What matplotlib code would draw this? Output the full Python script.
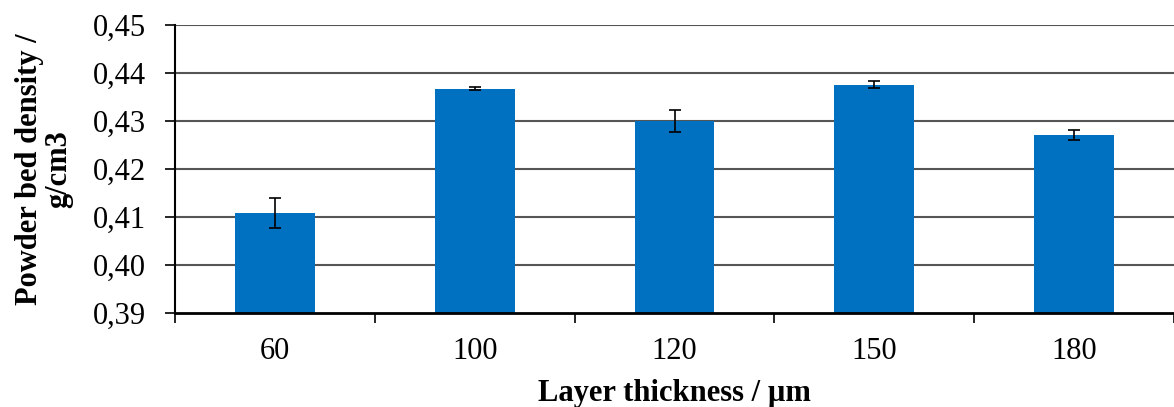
import matplotlib.pyplot as plt
import numpy as np

# Layer thickness categories and measured powder bed density
thickness = ['60', '100', '120', '150', '180']
density = [0.4108, 0.4367, 0.4300, 0.4376, 0.4271]
density_err = [0.0031, 0.0003, 0.0023, 0.0008, 0.0011]

yticks = [0.39, 0.40, 0.41, 0.42, 0.43, 0.44, 0.45]
ytick_labels = ['0,39', '0,40', '0,41', '0,42', '0,43', '0,44', '0,45']

plt.rcParams['font.family'] = ['Liberation Serif', 'DejaVu Serif']

fig = plt.figure(figsize=(11.74, 4.07), dpi=100)
ax = fig.add_axes([175 / 1174, 1 - 313 / 407, 999 / 1174, 288 / 407])

x = np.arange(len(thickness))
ax.bar(x, density, width=0.4, color='#0070C0', zorder=3,
       yerr=density_err, capsize=4.5,
       error_kw=dict(ecolor='black', elinewidth=1.2, capthick=1.2, zorder=4))

ax.set_ylim(0.39, 0.45)
ax.set_xlim(-0.5, -0.5 + 999 / 200.5)
ax.set_yticks(yticks)
ax.set_yticklabels(ytick_labels, fontsize=22)

# category labels at centres, tick marks at category boundaries
ax.set_xticks(x)
ax.set_xticklabels(thickness, fontsize=22)
ax.tick_params(axis='x', length=0, pad=17)
ax.set_xticks(np.arange(-0.5, len(thickness), 1.0), minor=True)
ax.tick_params(axis='x', which='minor', length=7, width=1.2, direction='out')
ax.tick_params(axis='y', length=7, width=1.2, direction='out', pad=14)

for y in yticks[1:]:
    ax.axhline(y, color='#555555', linewidth=1.5, zorder=1)

for side in ['top', 'right']:
    ax.spines[side].set_visible(False)
ax.spines['left'].set_linewidth(1.5)
ax.spines['bottom'].set_linewidth(2)
ax.spines['bottom'].set_zorder(5)

ax.set_xlabel('Layer thickness / µm', fontsize=22, fontweight='bold', labelpad=10)
ax.set_ylabel('Powder bed density /\ng/cm3', fontsize=22, fontweight='bold',
              labelpad=14, linespacing=1.0)

fig.savefig('out.png', dpi=100)
